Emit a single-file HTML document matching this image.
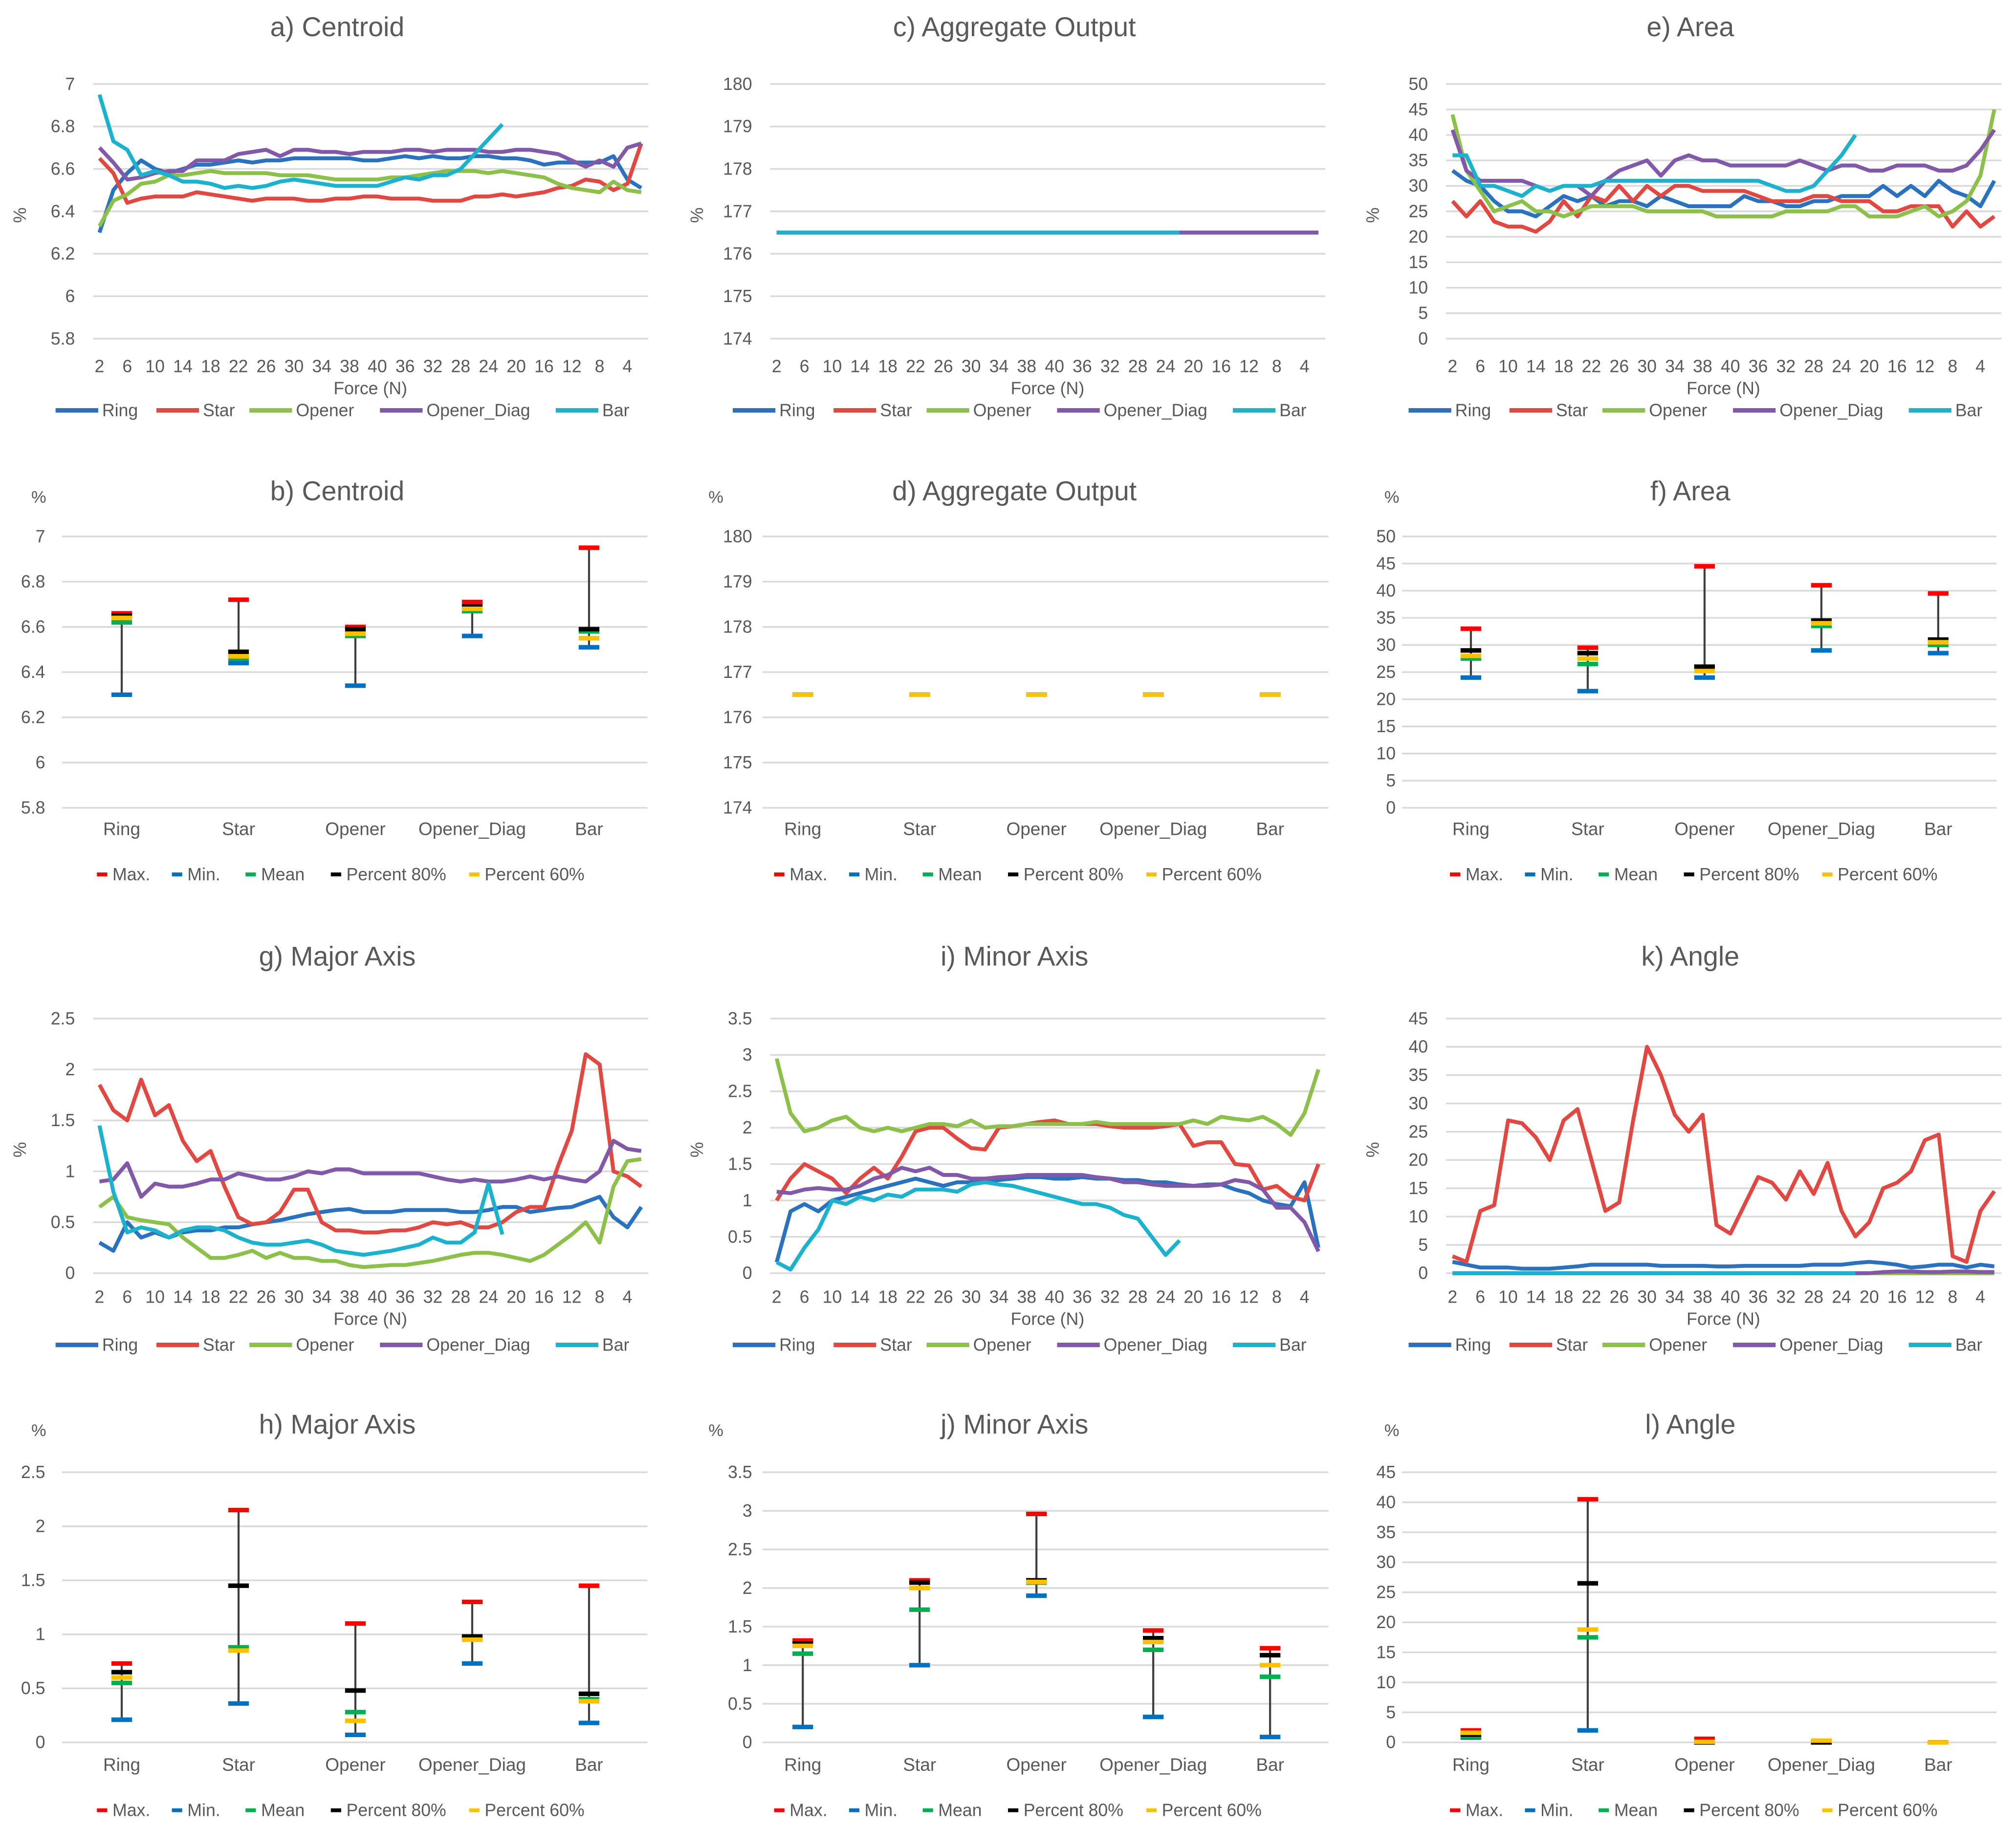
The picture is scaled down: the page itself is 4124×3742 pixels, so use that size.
<!DOCTYPE html>
<html><head><meta charset="utf-8">
<style>
html,body{margin:0;padding:0;background:#fff;}
svg{display:block;}
text{font-family:"Liberation Sans",sans-serif;fill:#595959;}
</style></head>
<body>
<svg id="fig" xmlns="http://www.w3.org/2000/svg" width="4124" height="3742" viewBox="0 0 1560 1415" preserveAspectRatio="none"></svg>
<script>
const forceTicks=["2","6","10","14","18","22","26","30","34","38","40","36","32","28","24","20","16","12","8","4"];
const seriesNames=["Ring","Star","Opener","Opener_Diag","Bar"];
const statNames=["Max.","Min.","Mean","Percent 80%","Percent 60%"];

const centroidTicks=["5.8","6","6.2","6.4","6.6","6.8","7"];
const centroidRing=[6.3,6.5,6.58,6.64,6.6,6.58,6.6,6.62,6.62,6.63,6.64,6.63,6.64,6.64,6.65,6.65,6.65,6.65,6.65,6.64,6.64,6.65,6.66,6.65,6.66,6.65,6.65,6.66,6.66,6.65,6.65,6.64,6.62,6.63,6.63,6.63,6.63,6.66,6.55,6.51];
const centroidStar=[6.65,6.58,6.44,6.46,6.47,6.47,6.47,6.49,6.48,6.47,6.46,6.45,6.46,6.46,6.46,6.45,6.45,6.46,6.46,6.47,6.47,6.46,6.46,6.46,6.45,6.45,6.45,6.47,6.47,6.48,6.47,6.48,6.49,6.51,6.52,6.55,6.54,6.5,6.53,6.72];
const centroidOpener=[6.33,6.45,6.48,6.53,6.54,6.57,6.57,6.58,6.59,6.58,6.58,6.58,6.58,6.57,6.57,6.57,6.56,6.55,6.55,6.55,6.55,6.56,6.56,6.57,6.58,6.59,6.59,6.59,6.58,6.59,6.58,6.57,6.56,6.53,6.51,6.5,6.49,6.54,6.5,6.49];
const centroidOpenerDiag=[6.7,6.63,6.55,6.56,6.58,6.59,6.59,6.64,6.64,6.64,6.67,6.68,6.69,6.66,6.69,6.69,6.68,6.68,6.67,6.68,6.68,6.68,6.69,6.69,6.68,6.69,6.69,6.69,6.68,6.68,6.69,6.69,6.68,6.67,6.64,6.61,6.64,6.61,6.7,6.72];
const centroidBar=[6.95,6.73,6.69,6.57,6.59,6.57,6.54,6.54,6.53,6.51,6.52,6.51,6.52,6.54,6.55,6.54,6.53,6.52,6.52,6.52,6.52,6.54,6.56,6.55,6.57,6.57,6.6,6.67,6.74,6.81];

const aggTicks=["174","175","176","177","178","179","180"];
const aggRing=[176.5,176.5,176.5,176.5,176.5,176.5,176.5,176.5,176.5,176.5,176.5,176.5,176.5,176.5,176.5,176.5,176.5,176.5,176.5,176.5,176.5,176.5,176.5,176.5,176.5,176.5,176.5,176.5,176.5,176.5,176.5,176.5,176.5,176.5,176.5,176.5,176.5,176.5,176.5,176.5];
const aggStar=aggRing.slice();
const aggOpener=aggRing.slice();
const aggOpenerDiag=aggRing.slice();
const aggBar=[176.5,176.5,176.5,176.5,176.5,176.5,176.5,176.5,176.5,176.5,176.5,176.5,176.5,176.5,176.5,176.5,176.5,176.5,176.5,176.5,176.5,176.5,176.5,176.5,176.5,176.5,176.5,176.5,176.5,176.5];

const areaTicks=["0","5","10","15","20","25","30","35","40","45","50"];
const areaRing=[33,31,30,27,25,25,24,26,28,27,28,26,27,27,26,28,27,26,26,26,26,28,27,27,26,26,27,27,28,28,28,30,28,30,28,31,29,28,26,31];
const areaStar=[27,24,27,23,22,22,21,23,27,24,28,27,30,27,30,28,30,30,29,29,29,29,28,27,27,27,28,28,27,27,27,25,25,26,26,26,22,25,22,24];
const areaOpener=[44,33,29,25,26,27,25,25,24,25,26,26,26,26,25,25,25,25,25,24,24,24,24,24,25,25,25,25,26,26,24,24,24,25,26,24,25,27,32,45];
const areaOpenerDiag=[41,33,31,31,31,31,30,29,30,30,28,31,33,34,35,32,35,36,35,35,34,34,34,34,34,35,34,33,34,34,33,33,34,34,34,33,33,34,37,41];
const areaBar=[36,36,30,30,29,28,30,29,30,30,30,31,31,31,31,31,31,31,31,31,31,31,31,30,29,29,30,33,36,40];

const majorTicks=["0","0.5","1","1.5","2","2.5"];
const majorRing=[0.3,0.22,0.5,0.35,0.4,0.35,0.4,0.42,0.42,0.45,0.45,0.48,0.5,0.52,0.55,0.58,0.6,0.62,0.63,0.6,0.6,0.6,0.62,0.62,0.62,0.62,0.6,0.6,0.62,0.65,0.65,0.6,0.62,0.64,0.65,0.7,0.75,0.55,0.45,0.65];
const majorStar=[1.85,1.6,1.5,1.9,1.55,1.65,1.3,1.1,1.2,0.85,0.55,0.48,0.5,0.6,0.82,0.82,0.5,0.42,0.42,0.4,0.4,0.42,0.42,0.45,0.5,0.48,0.5,0.45,0.45,0.5,0.6,0.65,0.65,1.05,1.4,2.15,2.05,1.0,0.95,0.85];
const majorOpener=[0.65,0.75,0.55,0.52,0.5,0.48,0.35,0.25,0.15,0.15,0.18,0.22,0.15,0.2,0.15,0.15,0.12,0.12,0.08,0.06,0.07,0.08,0.08,0.1,0.12,0.15,0.18,0.2,0.2,0.18,0.15,0.12,0.18,0.28,0.38,0.5,0.3,0.85,1.1,1.12];
const majorOpenerDiag=[0.9,0.92,1.08,0.75,0.88,0.85,0.85,0.88,0.92,0.92,0.98,0.95,0.92,0.92,0.95,1.0,0.98,1.02,1.02,0.98,0.98,0.98,0.98,0.98,0.95,0.92,0.9,0.92,0.9,0.9,0.92,0.95,0.92,0.95,0.92,0.9,1.0,1.3,1.22,1.2];
const majorBar=[1.45,0.8,0.4,0.45,0.42,0.35,0.42,0.45,0.45,0.42,0.35,0.3,0.28,0.28,0.3,0.32,0.28,0.22,0.2,0.18,0.2,0.22,0.25,0.28,0.35,0.3,0.3,0.4,0.88,0.38];

const minorTicks=["0","0.5","1","1.5","2","2.5","3","3.5"];
const minorRing=[0.15,0.85,0.95,0.85,1.0,1.05,1.1,1.15,1.2,1.25,1.3,1.25,1.2,1.25,1.25,1.25,1.28,1.3,1.32,1.32,1.3,1.3,1.32,1.3,1.3,1.28,1.28,1.25,1.25,1.22,1.2,1.22,1.22,1.15,1.1,1.0,0.95,0.92,1.25,0.35];
const minorStar=[1.0,1.3,1.5,1.4,1.3,1.1,1.3,1.45,1.3,1.6,1.95,2.0,2.0,1.85,1.72,1.7,2.0,2.02,2.05,2.08,2.1,2.05,2.05,2.05,2.02,2.0,2.0,2.0,2.02,2.05,1.75,1.8,1.8,1.5,1.48,1.15,1.2,1.05,1.0,1.5];
const minorOpener=[2.95,2.2,1.95,2.0,2.1,2.15,2.0,1.95,2.0,1.95,2.0,2.05,2.05,2.02,2.1,2.0,2.02,2.02,2.05,2.05,2.05,2.05,2.05,2.08,2.05,2.05,2.05,2.05,2.05,2.05,2.1,2.05,2.15,2.12,2.1,2.15,2.05,1.9,2.2,2.8];
const minorOpenerDiag=[1.12,1.1,1.15,1.17,1.15,1.15,1.2,1.3,1.35,1.45,1.4,1.45,1.35,1.35,1.3,1.3,1.32,1.33,1.35,1.35,1.35,1.35,1.35,1.32,1.3,1.25,1.25,1.22,1.2,1.2,1.2,1.2,1.22,1.28,1.25,1.15,0.9,0.9,0.7,0.3];
const minorBar=[0.15,0.05,0.35,0.6,1.0,0.95,1.05,1.0,1.08,1.05,1.15,1.15,1.15,1.12,1.22,1.25,1.22,1.2,1.15,1.1,1.05,1.0,0.95,0.95,0.9,0.8,0.75,0.5,0.25,0.45];

const angleTicks=["0","5","10","15","20","25","30","35","40","45"];
const angleRing=[2,1.5,1,1,1,0.8,0.8,0.8,1,1.2,1.5,1.5,1.5,1.5,1.5,1.3,1.3,1.3,1.3,1.2,1.2,1.3,1.3,1.3,1.3,1.3,1.5,1.5,1.5,1.8,2,1.8,1.5,1,1.2,1.5,1.5,1,1.5,1.2];
const angleStar=[3,2,11,12,27,26.5,24,20,27,29,20,11,12.5,27,40,35,28,25,28,8.5,7,12,17,16,13,18,14,19.5,11,6.5,9,15,16,18,23.5,24.5,3,2,11,14.5];
const angleOpener=[0,0,0,0,0,0,0,0,0,0,0,0,0,0,0,0,0,0,0,0,0,0,0,0,0,0,0,0,0,0,0,0,0,0,0,0,0,0,0,0];
const angleOpenerDiag=[0,0,0,0,0,0,0,0,0,0,0,0,0,0,0,0,0,0,0,0,0,0,0,0,0,0,0,0,0,0,0,0.2,0.3,0.3,0.2,0.2,0.3,0.3,0.2,0.2];
const angleBar=[0,0,0,0,0,0,0,0,0,0,0,0,0,0,0,0,0,0,0,0,0,0,0,0,0,0,0,0,0,0];

const cMax=[6.66,6.72,6.6,6.71,6.95], cMin=[6.3,6.44,6.34,6.56,6.51], cMean=[6.62,6.46,6.56,6.67,6.58], cP80=[6.65,6.49,6.59,6.69,6.59], cP60=[6.64,6.47,6.57,6.68,6.55];
const aMax=[176.5,176.5,176.5,176.5,176.5], aMin=[176.5,176.5,176.5,176.5,176.5], aMean=[176.5,176.5,176.5,176.5,176.5], aP80=[176.5,176.5,176.5,176.5,176.5], aP60=[176.5,176.5,176.5,176.5,176.5];
const arMax=[33,29.5,44.5,41,39.5], arMin=[24,21.5,24,29,28.5], arMean=[27.5,26.5,26,33.5,30], arP80=[29,28.5,26,34.5,31], arP60=[28,27.5,25.2,34,30.5];
const mjMax=[0.73,2.15,1.1,1.3,1.45], mjMin=[0.21,0.36,0.07,0.73,0.18], mjMean=[0.55,0.88,0.28,0.97,0.4], mjP80=[0.65,1.45,0.48,0.98,0.45], mjP60=[0.6,0.85,0.2,0.95,0.38];
const mnMax=[1.32,2.1,2.96,1.45,1.22], mnMin=[0.2,1.0,1.9,0.33,0.07], mnMean=[1.15,1.72,2.07,1.2,0.85], mnP80=[1.28,2.07,2.1,1.35,1.13], mnP60=[1.25,2.0,2.08,1.3,1.0];
const anMax=[2,40.5,0.6,0.2,0], anMin=[0.8,2,0,0,0], anMean=[1,17.5,0,0,0], anP80=[1.3,26.5,0,0,0], anP60=[1.6,18.8,0.1,0.3,0];

const svg=document.getElementById('fig');
const NS='http://www.w3.org/2000/svg';
const lineColors=['#2A72BE','#E04841','#8CC04A','#8159A8','#1CB2CE'];
const statColors=['#FF0000','#0070C0','#00B050','#000000','#FFC000'];

function mk(tag,attrs,parent){const e=document.createElementNS(NS,tag);for(const k in attrs)e.setAttribute(k,attrs[k]);(parent||svg).appendChild(e);return e;}
function txt(s,x,y,size,anchor,parent){const t=mk('text',{x:x,y:y,'font-size':size,'text-anchor':anchor||'middle'},parent);t.textContent=s;return t;}

function axisY(P){return v=>P.bottom-(v-P.min)/(P.max-P.min)*(P.bottom-P.top);}

function drawFrame(g,P,ticks){
  const y=axisY(P);
  ticks.forEach(t=>{
    const v=parseFloat(t);
    const gl=mk('line',{x1:P.gl0,x2:P.right,y1:y(v),y2:y(v),stroke:'#D9D9D9','stroke-width':1.3},g);
    
    
    const tl=txt(t,P.labelX,y(v)+4.5,13.5,'end',g);
    
    
  });
  const ti=txt(P.title,P.titleX,P.titleY,21,'middle',g);
  
  
}

function lineChart(name,P,ticks,series){
  const g=mk('g',{});
  
  
  drawFrame(g,P,ticks);
  const y=axisY(P);
  const step=(P.right-P.left)/40;
  const x=i=>P.left+(i+0.5)*step;
  forceTicks.forEach((t,k)=>{
    const l=txt(t,x(k*2),P.xLabY,13.5,'middle',g);
    
    
  });
  const xt=txt('Force (N)',(P.left+P.right)/2,P.xLabY+17,13.5,'middle',g);
  
  
  const yt=txt('%',0,0,13.5,'middle',g);
  yt.setAttribute('transform','translate('+P.pctX+','+P.pctY+') rotate(-90)');
  
  
  series.forEach((arr,s)=>{
    const pts=arr.map((v,i)=>x(i).toFixed(2)+','+y(v).toFixed(2)).join(' ');
    const pl=mk('polyline',{points:pts,fill:'none',stroke:lineColors[s],'stroke-width':3,'stroke-linejoin':'round'},g);
    
    
  });
  const legX=[43,121,193,294,430];
  seriesNames.forEach((n,s)=>{
    const lx=P.off+legX[s];
    const ln=mk('line',{x1:lx,x2:lx+33,y1:P.legY-4.5,y2:P.legY-4.5,stroke:lineColors[s],'stroke-width':3.5},g);
    
    
    const lt=txt(n,lx+36,P.legY,13.5,'start',g);
    
    
  });
}

function errChart(name,P,ticks,stats){
  const g=mk('g',{});
  
  
  drawFrame(g,P,ticks);
  const y=axisY(P);
  const step=(P.right-P.left)/5;
  const x=i=>P.left+(i+0.5)*step;
  const pc=txt('%',P.pctX,P.pctY,13,'middle',g);
  
  
  seriesNames.forEach((n,i)=>{
    const l=txt(n,x(i),P.xLabY,14,'middle',g);
    
    
    const hi=Math.max(...stats.map(a=>a[i])), lo=Math.min(...stats.map(a=>a[i]));
    const v=mk('line',{x1:x(i),x2:x(i),y1:y(hi),y2:y(lo),stroke:'#404040','stroke-width':1.6},g);
    
    
    stats.forEach((arr,s)=>{
      const m=mk('line',{x1:x(i)-8,x2:x(i)+8,y1:y(arr[i]),y2:y(arr[i]),stroke:statColors[s],'stroke-width':3.5},g);
      
      
    });
  });
  const legX=[75,133,190,256,363];
  statNames.forEach((n,s)=>{
    const lx=P.off+legX[s];
    const ln=mk('line',{x1:lx,x2:lx+8,y1:P.legY-4.5,y2:P.legY-4.5,stroke:statColors[s],'stroke-width':3},g);
    
    
    const lt=txt(n,lx+12,P.legY,13.5,'start',g);
    
    
  });
}

const colOff=[0,524,1047];
function LP(c,top,bottom,min,max,title,titleY,xLabY,legY){
  const o=colOff[c];
  return {off:o,left:o+71.6,right:o+501.6,gl0:o+72,top:top,bottom:bottom,min:min,max:max,labelX:o+58,pctX:o+20,pctY:(top+bottom)/2+3,
    title:title,titleX:o+261,titleY:titleY,xLabY:xLabY,legY:legY};
}
function EP(c,top,bottom,min,max,title,titleY,xLabY,legY){
  const o=colOff[c];
  const L=[49,52,46][c], lx=[35,58,33][c], g0=[48,66,38][c];
  return {off:o,left:o+L,right:o+L+452,gl0:o+g0,top:top,bottom:bottom,min:min,max:max,labelX:o+lx,pctX:o+30,pctY:titleY+2,
    title:title,titleX:o+261,titleY:titleY,xLabY:xLabY,legY:legY};
}

lineChart('chart-a-centroid',LP(0,65,262,5.8,7,'a) Centroid',28,288,322),centroidTicks,[centroidRing,centroidStar,centroidOpener,centroidOpenerDiag,centroidBar]);
lineChart('chart-c-aggregate-output',LP(1,65,262,174,180,'c) Aggregate Output',28,288,322),aggTicks,[aggRing,aggStar,aggOpener,aggOpenerDiag,aggBar]);
lineChart('chart-e-area',LP(2,65,262,0,50,'e) Area',28,288,322),areaTicks,[areaRing,areaStar,areaOpener,areaOpenerDiag,areaBar]);

errChart('chart-b-centroid',EP(0,415,625,5.8,7,'b) Centroid',387,646,681),centroidTicks,[cMax,cMin,cMean,cP80,cP60]);
errChart('chart-d-aggregate-output',EP(1,415,625,174,180,'d) Aggregate Output',387,646,681),aggTicks,[aMax,aMin,aMean,aP80,aP60]);
errChart('chart-f-area',EP(2,415,625,0,50,'f) Area',387,646,681),areaTicks,[arMax,arMin,arMean,arP80,arP60]);

lineChart('chart-g-major-axis',LP(0,788,985,0,2.5,'g) Major Axis',747,1008,1045),majorTicks,[majorRing,majorStar,majorOpener,majorOpenerDiag,majorBar]);
lineChart('chart-i-minor-axis',LP(1,788,985,0,3.5,'i) Minor Axis',747,1008,1045),minorTicks,[minorRing,minorStar,minorOpener,minorOpenerDiag,minorBar]);
lineChart('chart-k-angle',LP(2,788,985,0,45,'k) Angle',747,1008,1045),angleTicks,[angleRing,angleStar,angleOpener,angleOpenerDiag,angleBar]);

errChart('chart-h-major-axis',EP(0,1139,1348,0,2.5,'h) Major Axis',1109,1370,1405),majorTicks,[mjMax,mjMin,mjMean,mjP80,mjP60]);
errChart('chart-j-minor-axis',EP(1,1139,1348,0,3.5,'j) Minor Axis',1109,1370,1405),minorTicks,[mnMax,mnMin,mnMean,mnP80,mnP60]);
errChart('chart-l-angle',EP(2,1139,1348,0,45,'l) Angle',1109,1370,1405),angleTicks,[anMax,anMin,anMean,anP80,anP60]);
</script>
</body></html>
